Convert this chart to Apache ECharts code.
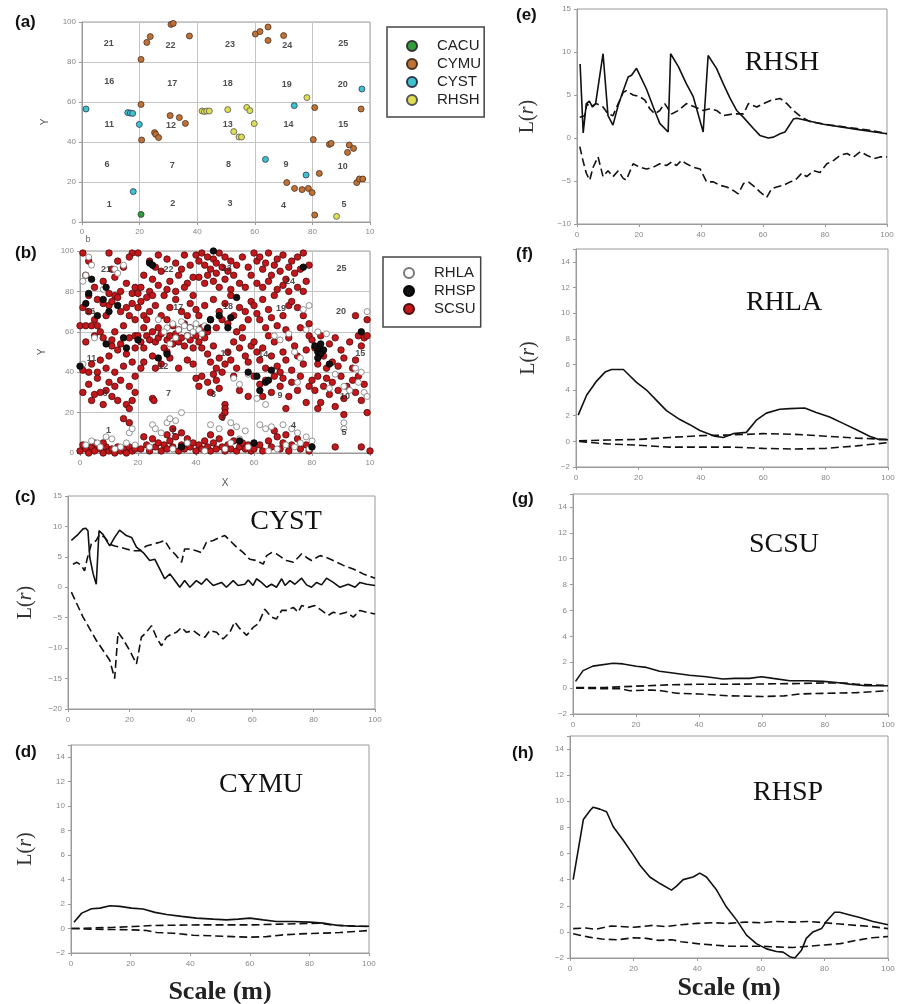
<!DOCTYPE html>
<html><head><meta charset="utf-8">
<script src="https://cdn.jsdelivr.net/npm/echarts@6/dist/echarts.min.js"></script>
<style>html,body{margin:0;padding:0;background:#fff}#c{width:902px;height:1004px}</style>
</head><body><div id="c"></div><script>
// ---------- DATA ----------
// Panel (a): species locations (x, y in m)
const cacuPts = [[20.5,3.8]];
const cymuPts = [[20.5,81.3],[22.5,89.8],[23.7,92.7],[30.9,98.8],[31.7,99.3],[37.3,93],[60.2,94],[61.8,95.2],[64.6,97.5],[64.6,90.8],[70,93.2],[20.5,58.8],[20.7,41],[25.2,44.7],[25.6,43.8],[26.6,42.2],[30.6,53.2],[33.8,52.2],[35.9,49.3],[80.8,57.2],[80.3,41.2],[85.9,38.8],[86.5,39.3],[92.8,38.5],[94.3,36.8],[92.2,34.8],[96.9,56.5],[71.1,19.7],[73.8,16.8],[76.4,16.2],[78.6,16.8],[79.9,14.7],[80.8,3.5],[82.4,24.3],[95.4,19.7],[96.3,21.5],[97.5,21.5]];
const cystPts = [[1.4,56.5],[15.9,54.7],[16.8,54.5],[17.6,54.3],[19.9,48.8],[17.8,15.2],[63.7,31.3],[77.8,23.5],[73.7,58.2],[97.2,66.5]];
const rhshPts = [[41.7,55.5],[42.5,55.2],[43.3,55.5],[44.2,55.5],[50.6,56.2],[52.7,45.2],[54.5,42.5],[55.4,42.5],[57.2,57.3],[58.3,55.7],[59.8,49.2],[78.1,62.2],[88.4,2.8]];
const cellLabelsA = [[9.3,89.3,'21'],[30.7,88.2,'22'],[51.4,88.8,'23'],[71.3,88.2,'24'],[90.7,89.3,'25'],
  [9.5,70.2,'16'],[31.3,69.3,'17'],[50.6,69,'18'],[71.1,68.8,'19'],[90.5,68.8,'20'],
  [9.5,48.8,'11'],[30.9,48.2,'12'],[50.6,48.8,'13'],[71.7,48.8,'14'],[90.7,48.8,'15'],
  [8.7,28.8,'6'],[31.3,28.2,'7'],[50.9,28.5,'8'],[70.8,28.5,'9'],[90.5,27.7,'10'],
  [9.5,8.8,'1'],[31.5,9,'2'],[51.4,9,'3'],[70,8,'4'],[91,8.5,'5']];

// Panel (b): species locations
const scsuPts = [
 [1,99],[3,95],[10,99],[13,95],[15,92],[11,91],[18,99],[8,85],[12,87],[16,84],[19,82],[5,82],[14,80],[17,97],[2,88],
 [0,63],[2,63],[4,63],[6,63],[1,72],[3,70],[6,76],[8,74],[10,73],[12,78],[13,77],[11,75],[14,70],[16,72],[18,74],[17,68],[19,66],[9,68],[7,60],[12,60],[15,63],[3,78],[5,66],[18,79],[10,79],
 [2,55],[5,58],[8,57],[11,56],[14,54],[17,57],[19,52],[13,51],[10,48],[7,46],[4,44],[1,41],[3,40],[6,40],[9,42],[12,40],[15,43],[18,45],[16,49],[11,53],[19,58],
 [1,30],[4,26],[5,29],[7,30],[9,31],[12,33],[10,35],[14,36],[17,33],[19,30],[18,26],[16,24],[13,26],[3,34],[8,24],[11,28],[17,22],[19,38],[6,37],
 [0,1],[2,2],[3,0],[4,3],[5,1],[6,4],[7,2],[8,0],[9,3],[10,1],[11,2],[12,0],[13,3],[14,1],[15,2],[16,0],[17,3],[18,1],[19,2],[1,4],[5,5],[8,5],[15,17],[17,15],
 [20,99],[24,95],[27,98],[30,96],[33,94],[36,98],[38,93],[22,88],[25,86],[28,90],[31,85],[34,88],[37,84],[21,82],[24,80],[27,83],[30,81],[33,80],[36,82],[39,87],[26,92],[35,91],
 [20,72],[21,75],[22,68],[23,66],[24,70],[26,73],[28,68],[30,66],[31,72],[33,76],[35,70],[37,68],[38,74],[39,78],[25,78],[29,78],[27,62],[32,63],[36,64],[22,62],[34,61],[38,62],[20,79],[23,77],
 [20,58],[21,55],[22,52],[23,58],[24,56],[25,60],[26,55],[27,57],[28,59],[29,52],[30,56],[31,58],[32,54],[33,59],[34,55],[35,57],[36,53],[37,58],[38,56],[39,52],[22,45],[25,48],[28,44],[31,47],[34,42],[37,46],[39,44],[21,42],[26,42],[30,50],
 [25,27],[25.5,26],
 [21,2],[23,4],[24,1],[25,7],[26,3],[27,5],[28,1],[29,4],[30,2],[31,6],[32,3],[33,8],[34,1],[35,4],[36,2],[37,7],[38,3],[39,5],[22,8],[30,9],[35,10],[32,12],
 [40,98],[41,95],[42,99],[43,93],[44,97],[45,91],[46,96],[47,94],[48,99],[49,92],[50,97],[51,90],[52,95],[53,88],[54,93],[56,97],[58,92],[59,88],[41,87],[43,84],[46,85],[48,82],[50,86],[52,81],[55,84],[57,82],[44,88],[47,89],
 [40,71],[41,68],[43,73],[45,66],[46,76],[48,70],[50,74],[51,64],[53,68],[55,72],[56,62],[58,66],[59,75],[42,62],[44,60],[47,62],[49,66],[52,78],[57,70],[54,60],
 [40,58],[41,55],[42,52],[43,57],[44,49],[45,45],[46,53],[47,42],[48,47],[49,40],[50,44],[51,50],[53,55],[55,52],[56,57],[57,48],[58,45],[59,53],[54,42],[52,46],
 [40,37],[41,33],[42,38],[44,35],[45,30],[46,39],[47,36],[48,32],[50,24],[50,22],[50,20],[49,18],[55,31],[58,28],[53,38],
 [40,1],[41,4],[42,2],[43,6],[44,3],[45,1],[46,5],[47,2],[48,7],[49,3],[50,1],[51,4],[52,2],[53,6],[54,1],[55,3],[56,5],[57,2],[58,4],[59,1],[45,9],[52,10],
 [60,99],[61,95],[62,97],[63,91],[64,94],[65,99],[66,88],[67,93],[68,96],[69,90],[70,98],[71,86],[72,92],[73,95],[74,89],[75,97],[76,91],[77,99],[78,85],[79,93],[61,84],[63,82],[65,85],[68,81],[70,83],[72,80],[75,82],[77,80],
 [60,73],[61,69],[62,66],[63,76],[64,62],[65,71],[66,67],[68,63],[70,68],[72,73],[73,75],[75,72],[77,68],[79,64],[67,78],[71,61],[76,62],
 [60,55],[61,50],[62,46],[63,52],[64,42],[66,48],[67,55],[68,43],[70,50],[71,46],[72,57],[73,41],[74,53],[75,48],[77,44],[78,51],[79,58],[65,58],[69,40],
 [60,38],[62,34],[64,36],[66,30],[67,38],[69,33],[70,37],[72,28],[73,35],[75,31],[76,38],[78,25],[79,33],[63,28],[71,22],
 [60,2],[62,4],[63,1],[65,6],[66,3],[68,8],[69,2],[70,5],[72,1],[73,4],[75,7],[76,2],[78,4],[79,1],[67,11],[71,9],
 [80,56],[81,52],[83,58],[84,48],[86,54],[87,45],[88,57],[90,51],[91,47],[93,55],[94,42],[96,58],[97,53],[98,57],[99,58],[85,42],[89,43],[95,46],[82,44],
 [80,36],[81,31],[82,38],[83,25],[84,33],[85,37],[86,29],[87,35],[89,31],[90,38],[91,27],[92,33],[94,36],[95,30],[96,38],[97,26],[98,34],[99,20],[88,23],[82,22],
 [95,68],[99,66],[91,19],[88,3],[97,3],[100,1]
];
const rhlaPts = [[1,85],[2,88],[3,97],[4,93],[12,91],[13,89],[15,93],[8,81],[5,57],[1,44],
 [2,4],[4,6],[6,5],[9,8],[11,7],[14,3],[16,5],[17,10],[18,12],[19,4],[7,3],[12,2],
 [30,62],[32,64],[34,61],[35,65],[36,63],[38,62],[39,60],[40,64],[41,61],[37,58],[33,57],[42,59],[27,66],[29,60],[31,54],[43,63],
 [25,14],[26,12],[30,15],[31,17],[33,16],[35,20],[28,10],[37,5],[24,3],[32,2],
 [45,14],[48,12],[52,15],[54,13],[57,11],[55,7],[58,3],[43,1],[50,2],[52,5],
 [62,14],[64,12],[66,13],[70,14],[73,12],[75,10],[78,8],[76,5],[74,3],[79,2],[71,4],[68,2],[65,1],[80,6],
 [53,37],[55,34],[58,39],[61,27],[64,24],[67,58],[69,56],[72,59],[74,50],[76,47],[78,61],[77,71],[79,73],[75,35],[82,60],[85,59],
 [91,33],[93,31],[96,35],[98,30],[99,28],[97,40],[95,42],[88,39],[86,32],[91,15],[91,12],[99,70]];
const rhspPts = [[3,79],[4,86],[9,82],[2,74],[8,76],[10,70],[13,73],[6,68],[15,57],[9,54],[0,43],[24,94],[25,93],[20,56],[27,47],[30,49],[44,62],[45,66],[48,68],[46,100],[52,67],[51,62],[54,77],[58,40],[61,38],[62,31],[64,35],[65,36],[66,41],[82,50],[82,52],[83,54],[81,53],[84,51],[83,49],[86,44],[82,47],[97,60],[77,92],[80,3],[60,5],[55,6],[35,3],[16,52]];
const cellLabelsB = [[9,90.8,'21'],[30.5,90.8,'22'],[50.6,91.3,'23'],[72.4,85,'24'],[90.2,91.3,'25'],
  [3.5,70,'16'],[33.9,72,'17'],[51,72.4,'18'],[69.3,71.5,'19'],[90,69.9,'20'],
  [4,47,'11'],[28.7,43,'12'],[50.2,49.3,'13'],[63.2,49,'14'],[96.6,49.3,'15'],
  [8.6,29.3,'6'],[30.5,29.6,'7'],[46,28.8,'8'],[69,28.5,'9'],[91.4,28,'10'],
  [9.8,11.2,'1'],[32.4,10.4,'2'],[49.2,17,'3'],[73.6,13.7,'4'],[91,9.9,'5']];

// Panel (c) CYST: L(r) observed, upper and lower envelopes
const cystObs = [[1.1,7.7],[3.3,8.7],[4.9,9.6],[5.8,9.7],[6.5,9.3],[7.1,4.9],[8.2,2.2],[9.2,0.5],[10.1,9.3],[11.4,8.7],[12.5,7.7],[13.6,6.8],[15.2,8.2],[16.8,9.4],[19,8.5],[20.7,8.2],[22.3,6.6],[24.5,5.7],[26.6,4.4],[28.3,4.6],[29.9,3],[31.5,1.4],[33.2,2.2],[34.8,1.1],[36.4,0],[38,1.1],[39.7,0],[41.8,1.1],[43.5,0.5],[45.1,1.4],[47.3,0.3],[50,0.8],[51.6,0],[53.8,1.1],[55.4,0.3],[57.6,0.5],[58.7,1.2],[60.3,0.3],[61.4,1.4],[63,0.8],[64.7,0],[66.3,0.5],[67.9,0],[69.6,1.4],[70.7,0.3],[72.3,1.1],[73.9,0.5],[76.1,1.5],[77.7,0.4],[79.3,0],[81,0.8],[82.6,0.4],[84.2,1.5],[86.4,0.8],[88.6,0],[91.3,0.5],[93.5,0],[95.1,0.8],[97.3,0.5],[100,0.3]];
const cystHi = [[1.6,3.8],[2.9,4.1],[4.3,3.6],[5.4,2.7],[6.2,4.6],[7.6,7.1],[9.2,7.7],[10.3,8.7],[12,8.2],[13.6,7.1],[15.2,6.8],[16.8,6.6],[19,6.3],[21.2,6],[23.4,6],[25.5,6.8],[27.7,7.1],[29.9,7.4],[31.5,7.7],[33.2,6.3],[35.3,5.2],[37,4.1],[38,6.3],[39.7,6.3],[41.8,6],[43.5,5.7],[45.1,7.4],[47.3,7.7],[49.5,8.2],[51.1,8.5],[52.7,7.7],[54.9,6.6],[57.1,5.7],[59.2,4.6],[61.4,4.4],[63.6,3.8],[64.7,5.2],[66.3,5.7],[67.9,5.5],[69.6,4.9],[71.2,4.4],[73.4,4.1],[75,4.9],[76.1,5.5],[77.7,4.9],[79.3,4.4],[81,4.9],[82.1,5.2],[84.2,4.9],[86.4,4.4],[89.7,3.6],[92.9,3],[96.2,2.2],[100,1.5]];
const cystLo = [[1.1,-0.8],[4.9,-4.9],[9.2,-8.7],[13.6,-12],[15.2,-15],[16.3,-7.4],[17.9,-8.5],[20.1,-10.4],[22.3,-12.6],[23.9,-8.2],[25.5,-7.4],[27.2,-6.3],[28.8,-8.2],[30.4,-9.6],[32.1,-8.2],[33.7,-7.7],[35.3,-7.4],[37,-6.6],[38.6,-7.4],[40.8,-7.1],[42.9,-7.9],[44.6,-8.2],[46.2,-7.1],[48.4,-7.4],[50.5,-8.5],[52.7,-7.4],[54.3,-5.7],[56,-6.8],[58.2,-7.9],[60.3,-6.6],[62,-6],[64.1,-3.6],[66.3,-4.9],[67.9,-5.2],[69.6,-3.8],[71.2,-3.8],[73.4,-3.3],[75,-4.1],[76.1,-3],[78.3,-3.3],[80.4,-3],[82.6,-3.8],[84.8,-4.6],[86.4,-4.1],[88.6,-4.4],[90.8,-4.1],[92.9,-4.9],[95.1,-3.8],[97.3,-4.1],[100,-4.4]];

// Panel (d) CYMU
const cymuObs = [[1,0.52],[3.6,1.26],[6.9,1.62],[9.7,1.67],[13.1,1.86],[16.4,1.81],[20.3,1.67],[24.2,1.59],[28.2,1.32],[32.1,1.15],[37.1,0.99],[42.1,0.85],[47.7,0.77],[52.2,0.71],[56.1,0.77],[60,0.85],[64.5,0.71],[68.9,0.58],[74.5,0.58],[80.1,0.52],[84.6,0.44],[89.1,0.27],[94.6,0.19],[100,0.19]];
const cymuHi = [[0.2,0],[7.5,0.05],[14.2,0.1],[20.9,0.16],[27.6,0.25],[34.3,0.27],[43.2,0.3],[52.2,0.3],[61.1,0.3],[70.1,0.36],[79,0.41],[83.5,0.44],[87.9,0.27],[93.5,0.22],[100,0.16]];
const cymuLo = [[0.2,0],[7.5,-0.05],[14.2,-0.08],[20.9,-0.11],[25.4,-0.16],[28.7,-0.33],[34.3,-0.38],[41,-0.55],[47.7,-0.6],[54.4,-0.66],[60,-0.71],[65.6,-0.66],[71.2,-0.52],[76.8,-0.44],[83.5,-0.38],[90.2,-0.33],[100,-0.16]];

// Panel (e) RHSH
const rhshObs = [[1,8.6],[2,0.6],[3,4],[4,4.3],[5,3.6],[6,4],[8.4,9.8],[10,2.6],[11.6,1.5],[13.3,3.8],[14.9,5.5],[16.5,7.1],[17.6,7.3],[19.2,8.1],[20.8,6.9],[22.4,5.7],[24.6,3.6],[26.7,1.7],[29.4,0.7],[30.2,9.8],[32.7,8.3],[35.3,6.3],[37.5,4.8],[40.7,0.7],[42.3,9.6],[45,8.1],[47.2,6.3],[49.4,4.6],[51.5,3.2],[53.7,2.4],[56.9,1.1],[59,0.3],[61.7,0],[63.4,0.1],[65.5,0.5],[67.1,0.7],[69.8,2.2],[70.9,2.3],[79.5,1.6],[90.3,1],[100,0.5]];
const rhshHi = [[0.9,2.4],[2.5,2.6],[3.2,4],[4.1,3.6],[6.3,4],[8.4,3.6],[10,2.8],[11.6,2.6],[13.3,4],[14.9,5.3],[15.9,5.5],[18.1,5],[20.3,4.8],[21.9,4.4],[23.5,3.4],[25.1,2.8],[26.7,3.2],[28.3,4],[30.5,2.8],[32.7,3.2],[35.3,4],[38,3.6],[40.7,3.2],[42.9,3.4],[45,3.2],[47.2,2.6],[50.4,2.8],[53.7,2.8],[55.3,4],[58,3.6],[60.1,4],[62.8,4.4],[65.5,4.6],[67.7,4],[69.8,3.2],[72.5,2.4],[75.2,1.9],[78.4,1.7],[81.7,1.5],[86,1.3],[90.3,1.1],[94.6,0.9],[100,0.5]];
const rhshLo = [[0.9,-1],[1.9,-2.6],[3,-4.1],[4.1,-4.9],[5.2,-3.4],[6.8,-2.2],[8.4,-4.5],[10,-3.8],[11.6,-4.5],[13.3,-3.8],[14.9,-4.7],[15.9,-4.9],[18.1,-3],[20.3,-3.4],[22.4,-3.6],[24.6,-3.4],[26.7,-3],[28.9,-3.2],[30.5,-2.8],[32.1,-3.2],[33.7,-2.6],[35.3,-3],[37.5,-3.4],[39.7,-3.6],[41.8,-5.1],[44,-5.1],[46.1,-5.5],[48.3,-5.7],[50.4,-6.1],[52,-6.5],[53.7,-5.3],[55.3,-5.1],[57.4,-5.7],[59.1,-6.3],[61.2,-6.9],[62.8,-5.9],[64.4,-5.7],[66.6,-5.5],[68.8,-5.1],[70.4,-4.9],[72.5,-4.1],[74.1,-4.5],[76.3,-3.8],[78.4,-4],[80.6,-3],[82.8,-2.6],[84.9,-2],[87.1,-1.8],[89.2,-2.2],[91.4,-1.6],[93.5,-2],[95.7,-2.4],[97.8,-2.2],[100,-2.2]];

// Panel (f) RHLA
const rhlaObs = [[0.7,2.05],[3.4,3.6],[6.6,4.7],[9.3,5.4],[11.4,5.6],[15.2,5.6],[17.3,5.1],[19.4,4.6],[22.6,4],[25.8,3.2],[29,2.4],[33.3,1.7],[36.5,1.3],[39.7,0.85],[41.8,0.65],[44.5,0.4],[47.2,0.3],[50.4,0.6],[54.6,0.7],[57.8,1.65],[61,2.2],[65.3,2.5],[68.5,2.55],[73.3,2.6],[77,2.25],[81.3,1.9],[85.6,1.4],[89.9,0.9],[94.1,0.4],[97.3,0.13],[100,0.13]];
const rhlaHi = [[1,0.05],[10,0.1],[20,0.15],[30,0.3],[40,0.45],[50,0.5],[60,0.6],[70,0.55],[80,0.4],[90,0.25],[100,0.15]];
const rhlaLo = [[1,0],[10,-0.2],[20,-0.3],[30,-0.45],[40,-0.45],[50,-0.45],[60,-0.55],[70,-0.6],[80,-0.55],[90,-0.35],[100,-0.1]];

// Panel (g) SCSU
const scsuObs = [[0.8,0.52],[3.2,1.35],[6.3,1.7],[12.7,1.92],[15.9,1.87],[20.1,1.69],[23.3,1.6],[27.5,1.3],[31.7,1.17],[37,1],[42.3,0.88],[47.6,0.7],[51.3,0.75],[56,0.75],[59.8,0.88],[63.5,0.75],[68.8,0.57],[74,0.57],[79.4,0.52],[83.6,0.44],[87.8,0.31],[93,0.18],[100,0.18]];
const scsuHi = [[1,0.05],[10,0.05],[20,0.15],[30,0.25],[40,0.3],[50,0.3],[60,0.32],[70,0.35],[80,0.4],[86,0.4],[90,0.3],[100,0.2]];
const scsuLo = [[1,0],[10,-0.05],[15,-0.05],[18,-0.2],[25,-0.15],[28,-0.2],[33,-0.4],[40,-0.45],[50,-0.6],[60,-0.65],[67,-0.6],[72,-0.45],[80,-0.4],[90,-0.35],[100,-0.2]];

// Panel (h) RHSP
const rhspObs = [[1,4],[2.6,6.3],[4.2,8.6],[6.3,9.3],[7.3,9.55],[9.4,9.4],[11.5,9.2],[13.6,8.05],[16.8,7],[19.9,5.9],[22,5.1],[25.1,4.2],[28.3,3.7],[31.9,3.2],[33.5,3.5],[35.6,4],[38.7,4.2],[40.8,4.5],[42.9,4.2],[46.1,3.2],[49.2,1.9],[52.4,0.9],[55.5,-0.25],[58.6,-0.9],[61.8,-1.3],[64.9,-1.5],[67,-1.55],[69.1,-1.9],[70.7,-2],[72.8,-1.4],[74.3,-0.5],[76.4,0],[79.1,0.25],[80.6,0.8],[83.2,1.5],[84.8,1.5],[88,1.3],[91.1,1.1],[95.3,0.8],[100,0.55]];
const rhspHi = [[1,0.25],[5,0.3],[8,0.2],[13,0.45],[20,0.35],[26,0.5],[30,0.4],[35,0.55],[40,0.65],[45,0.7],[50,0.65],[55,0.75],[60,0.7],[65,0.8],[70,0.75],[75,0.8],[80,0.7],[85,0.6],[90,0.5],[95,0.4],[100,0.25]];
const rhspLo = [[1,-0.15],[6,-0.4],[10,-0.55],[15,-0.6],[20,-0.45],[24,-0.5],[28,-0.65],[32,-0.6],[35,-0.75],[40,-0.9],[45,-1],[50,-1.1],[55,-1.1],[60,-1.1],[65,-1.15],[70,-1.2],[75,-1.1],[80,-1],[85,-0.9],[90,-0.65],[95,-0.45],[100,-0.35]];

// ---------- OPTION BUILDING ----------
const SANS = 'Liberation Sans';
const SERIF = 'Liberation Serif';
const minus = v => (v < 0 ? '\u2212' + Math.abs(v) : String(v));

function grid(l, t, w, h) {
  return { left: l, top: t, width: w, height: h, show: true, borderColor: '#9a9a9a', borderWidth: 1,
           containLabel: false, outerBoundsMode: 'none' };
}
function xAx(gi, extra) {
  return Object.assign({
    type: 'value', gridIndex: gi, min: 0, max: 100, interval: 20,
    axisLine: { show: true, onZero: false, lineStyle: { color: '#9a9a9a' } },
    axisTick: { show: true, length: 3, lineStyle: { color: '#9a9a9a' } },
    axisLabel: { fontSize: 8, color: '#888', fontFamily: SANS, margin: 7 },
    splitLine: { show: false }
  }, extra || {});
}
function yAx(gi, min, max, interval, extra) {
  return Object.assign({
    type: 'value', gridIndex: gi, min: min, max: max, interval: interval,
    axisLine: { show: true, onZero: false, lineStyle: { color: '#9a9a9a' } },
    axisTick: { show: true, length: 3, lineStyle: { color: '#9a9a9a' } },
    axisLabel: { fontSize: 8, color: '#888', fontFamily: SANS, margin: 6,
                 formatter: v => (v > 14 && max === 15 && interval === 2) ? '' : minus(v) },
    splitLine: { show: false }
  }, extra || {});
}
const lrName = {
  name: '{a|L(}{b|r}{a|)}', nameLocation: 'middle',
  nameTextStyle: { rich: { a: { fontFamily: SERIF, fontSize: 20, color: '#333' },
                           b: { fontFamily: SERIF, fontSize: 20, fontStyle: 'italic', color: '#333' } } }
};
const scaleName = { name: 'Scale (m)', nameLocation: 'middle',
  nameTextStyle: { fontFamily: SERIF, fontSize: 26, fontWeight: 'bold', color: '#222' } };
const cellSplit = { show: true, lineStyle: { color: '#c4c4c4', width: 1 } };
const mapLabel = { fontSize: 8, color: '#888', fontFamily: SANS, margin: 6, formatter: v => v === 100 ? '10' : String(v) };

const grids = [
  grid(82, 22, 288, 200),   // a
  grid(80, 251, 290, 202),  // b
  grid(68, 496, 307, 213),  // c
  grid(71, 745, 298, 208),  // d
  grid(577, 9, 310, 215),   // e
  grid(576, 249, 312, 218), // f
  grid(573, 494, 315, 220), // g
  grid(570, 736, 318, 222)  // h
];
const xAxes = [
  xAx(0, { splitLine: cellSplit, axisLabel: mapLabel }),
  xAx(1, { splitLine: cellSplit, axisLabel: mapLabel, name: 'X', nameLocation: 'middle', nameGap: 25,
           nameTextStyle: { fontSize: 10, color: '#555', fontFamily: SANS } }),
  xAx(2), xAx(3, Object.assign({ nameGap: 26 }, scaleName)), xAx(4), xAx(5), xAx(6),
  xAx(7, Object.assign({ nameGap: 17 }, scaleName))
];
const yAxes = [
  yAx(0, 0, 100, 20, { splitLine: cellSplit, axisLabel: { fontSize: 8, color: '#888', fontFamily: SANS, margin: 6 },
       name: 'Y', nameLocation: 'middle', nameGap: 32, nameTextStyle: { fontSize: 10, color: '#555', fontFamily: SANS } }),
  yAx(1, 0, 100, 20, { splitLine: cellSplit, axisLabel: { fontSize: 8, color: '#888', fontFamily: SANS, margin: 6 },
       name: 'Y', nameLocation: 'middle', nameGap: 33, nameTextStyle: { fontSize: 10, color: '#555', fontFamily: SANS } }),
  yAx(2, -20, 15, 5, Object.assign({ nameGap: 32 }, lrName)),
  yAx(3, -2, 15, 2, Object.assign({ nameGap: 35 }, lrName)),
  yAx(4, -10, 15, 5, Object.assign({ nameGap: 39 }, lrName)),
  yAx(5, -2, 15, 2, Object.assign({ nameGap: 37 }, lrName)),
  yAx(6, -2, 15, 2),
  yAx(7, -2, 15, 2)
];

function pts(name, gi, data, color, border, size, z) {
  return { name: name, type: 'scatter', xAxisIndex: gi, yAxisIndex: gi, data: data, symbol: 'circle',
           symbolSize: size, itemStyle: { color: color, borderColor: border, borderWidth: 0.8, opacity: 1 },
           z: z || 2, emphasis: { disabled: true }, silent: true };
}
function labels(gi, data) {
  return { type: 'scatter', xAxisIndex: gi, yAxisIndex: gi, data: data, symbolSize: 0, silent: true, z: 5,
           label: { show: true, position: 'inside', formatter: p => p.value[2], fontSize: 9, fontWeight: 'bold',
                    color: '#222', fontFamily: SANS } };
}
function line(gi, data, dashed) {
  return { type: 'line', xAxisIndex: gi, yAxisIndex: gi, data: data, showSymbol: false, symbol: 'none',
           silent: true, lineStyle: { color: '#111', width: 1.6, type: dashed ? [8, 4] : 'solid' } };
}

const series = [
  labels(0, cellLabelsA),
  pts('CACU', 0, cacuPts, '#2f9e3a', '#333', 6),
  pts('CYMU', 0, cymuPts, '#c07236', '#4a3020', 6),
  pts('CYST', 0, cystPts, '#3cc4cc', '#335', 6),
  pts('RHSH', 0, rhshPts, '#dede52', '#555', 6),
  pts('SCSU', 1, scsuPts, '#c5171b', '#4a0d0d', 6.5, 2),
  pts('RHLA', 1, rhlaPts, '#ffffff', '#777', 6, 3),
  pts('RHSP', 1, rhspPts, '#111111', '#000', 6.5, 4),
  labels(1, cellLabelsB),
  line(2, cystObs, false), line(2, cystHi, true), line(2, cystLo, true),
  line(3, cymuObs, false), line(3, cymuHi, true), line(3, cymuLo, true),
  line(4, rhshObs, false), line(4, rhshHi, true), line(4, rhshLo, true),
  line(5, rhlaObs, false), line(5, rhlaHi, true), line(5, rhlaLo, true),
  line(6, scsuObs, false), line(6, scsuHi, true), line(6, scsuLo, true),
  line(7, rhspObs, false), line(7, rhspHi, true), line(7, rhspLo, true)
];

const legendBase = {
  orient: 'vertical', icon: 'circle', itemWidth: 40, itemHeight: 10, itemGap: 0,
  borderColor: '#444', borderWidth: 1.5, backgroundColor: '#fff', selectedMode: false,
  textStyle: { fontSize: 15, fontFamily: SANS, color: '#222', lineHeight: 18 }
};
const legends = [
  Object.assign({}, legendBase, { data: ['CACU', 'CYMU', 'CYST', 'RHSH'], left: 387, top: 27, padding: [10, 3, 8, 19] }),
  Object.assign({}, legendBase, { data: ['RHLA', 'RHSP', 'SCSU'], left: 383, top: 257, padding: [7, 5, 9, 20] })
];

function txt(x, y, s, font, align) {
  return { type: 'text', x: x, y: y, silent: true,
           style: { text: s, font: font, fill: '#111', align: align || 'left', verticalAlign: 'middle' } };
}
const PF = 'bold 17px "Liberation Sans"';
const TF = '28px "Liberation Serif"';
const graphics = [
  txt(15, 22, '(a)', PF), txt(15, 253, '(b)', PF), txt(15, 497, '(c)', PF), txt(15, 752, '(d)', PF),
  txt(516, 15, '(e)', PF), txt(516, 254, '(f)', PF), txt(512, 499, '(g)', PF), txt(512, 753, '(h)', PF),
  txt(286, 522, 'CYST', TF, 'center'), txt(261, 785, 'CYMU', TF, 'center'),
  txt(782, 63, 'RHSH', TF, 'center'), txt(784, 303, 'RHLA', TF, 'center'),
  txt(784, 545, 'SCSU', TF, 'center'), txt(788, 793, 'RHSP', TF, 'center'),
  { type: 'text', x: 88, y: 240, silent: true, style: { text: 'b', font: '9px "Liberation Sans"', fill: '#666', align: 'center', verticalAlign: 'middle' } }
];

const chart = echarts.init(document.getElementById('c'), null, { renderer: 'canvas' });
chart.setOption({
  animation: false,
  backgroundColor: '#fff',
  grid: grids, xAxis: xAxes, yAxis: yAxes,
  legend: legends,
  series: series,
  graphic: graphics
});
</script></body></html>
